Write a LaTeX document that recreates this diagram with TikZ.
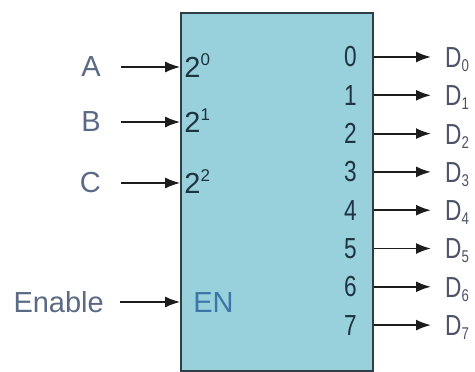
\documentclass[tikz,border=0pt]{standalone}
\usepackage{fontspec}
\setmainfont{Liberation Sans}
\usepackage{xcolor}
\usetikzlibrary{arrows.meta,positioning,calc}
\definecolor{cian}{HTML}{98D0DC}
\definecolor{borde}{HTML}{2F3D46}
\definecolor{tinta}{HTML}{1C1C1C}
\definecolor{pizarra}{HTML}{5B6A84}
\definecolor{oscuro}{HTML}{1E3440}
\definecolor{azulEN}{HTML}{3C76A6}
\definecolor{grisD}{HTML}{4C5268}
\newcommand{\estrecho}[1]{\scalebox{0.78}[1]{#1}}

\begin{document}
\begin{tikzpicture}[x=1pt,y=-1pt,
    caja/.style={draw=borde,fill=cian,line width=1.6pt,inner sep=0pt},
    letra/.style={inner sep=0pt,font=\fontsize{29}{32}\selectfont},
    entrada/.style={letra,anchor=east,text=pizarra},
    pin/.style={letra,anchor=base west,text=oscuro},
    num/.style={letra,anchor=east,text=oscuro},
    salida/.style={letra,anchor=base west,text=grisD},
    flecha/.style={-{Latex[length=15pt,width=11pt]},tinta,line width=1.9pt}]
  \useasboundingbox (0,0) rectangle (475,372);
  \node[caja,minimum width=192pt,minimum height=358pt] (dec) at (277,192) {};

  % entradas de seleccion
  \foreach \n/\t/\k/\y in {a/A/0/67,b/B/1/122,c/C/2/183}{
    \node[entrada] (\n) at (101,\y) {\t};
    \node[pin] (p\n) at ($(dec.west |- 0,\y)+(4,10.4)$)
      {2\raisebox{12pt}{\fontsize{17}{19}\selectfont\k}};
    \draw[flecha,shorten <=20pt] (\n.east) -- (\n.east -| dec.west);
  }
  \node[entrada] (en) at (104,302) {Enable};
  \node[pin,text=azulEN] (pen) at ($(dec.west |- 0,302)+(13,10.4)$) {EN};
  \draw[flecha,shorten <=16pt] (en.east) -- (en.east -| dec.west);

  % salidas D0..D7
  \foreach \i in {0,...,7}{
    \pgfmathsetmacro{\y}{57+38.3*\i}
    \node[num] (n\i) at (357,\y) {\estrecho{\i}};
    \node[salida] (d\i) at (445,\y+10.4)
      {\estrecho{D\raisebox{-4pt}{\fontsize{17}{19}\selectfont\i}}};
    \draw[flecha,shorten >=14pt] (dec.east |- n\i.east) -- (n\i.east -| d\i.west);
  }
\end{tikzpicture}
\end{document}
